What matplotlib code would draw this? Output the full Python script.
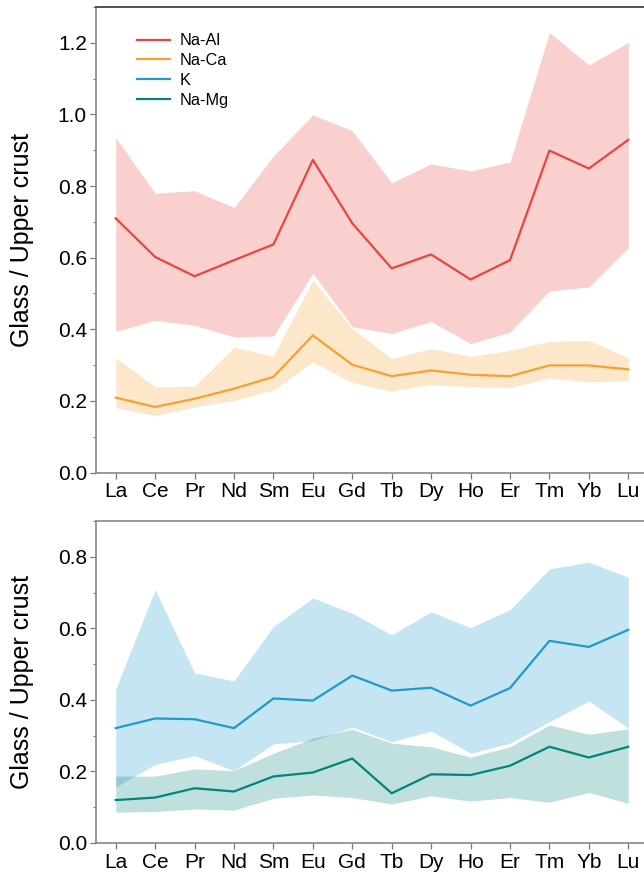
"""
REE patterns: glass normalised to upper crust, two panels.
"""

import numpy as np
import matplotlib
matplotlib.use('Agg')
import matplotlib.pyplot as plt
from matplotlib.ticker import MultipleLocator

plt.rcParams['font.family'] = ['Liberation Sans', 'DejaVu Sans']

ELEMENTS = ['La', 'Ce', 'Pr', 'Nd', 'Sm', 'Eu', 'Gd', 'Tb', 'Dy', 'Ho', 'Er', 'Tm', 'Yb', 'Lu']

# Na-Al  (média, mínimo, máximo)
na_al     = [0.710, 0.602, 0.548, 0.593, 0.637, 0.873, 0.696, 0.570, 0.609, 0.539, 0.593, 0.899, 0.849, 0.929]
na_al_min = [0.394, 0.425, 0.411, 0.379, 0.381, 0.556, 0.407, 0.388, 0.422, 0.360, 0.392, 0.507, 0.518, 0.628]
na_al_max = [0.935, 0.780, 0.787, 0.740, 0.884, 0.999, 0.954, 0.809, 0.862, 0.842, 0.867, 1.229, 1.138, 1.201]

# Na-Ca
na_ca     = [0.209, 0.183, 0.206, 0.234, 0.267, 0.383, 0.301, 0.269, 0.285, 0.273, 0.269, 0.299, 0.299, 0.288]
na_ca_min = [0.181, 0.159, 0.183, 0.201, 0.231, 0.309, 0.251, 0.227, 0.246, 0.239, 0.237, 0.264, 0.253, 0.257]
na_ca_max = [0.320, 0.239, 0.241, 0.350, 0.325, 0.537, 0.402, 0.318, 0.346, 0.324, 0.341, 0.366, 0.369, 0.321]

# K
k_mean = [0.321, 0.348, 0.346, 0.321, 0.404, 0.398, 0.468, 0.426, 0.434, 0.384, 0.433, 0.565, 0.548, 0.596]
k_min  = [0.156, 0.220, 0.244, 0.202, 0.277, 0.286, 0.324, 0.283, 0.313, 0.251, 0.279, 0.339, 0.397, 0.321]
k_max  = [0.430, 0.708, 0.475, 0.453, 0.605, 0.685, 0.642, 0.582, 0.646, 0.602, 0.652, 0.766, 0.785, 0.743]

# Na-Mg
na_mg     = [0.120, 0.127, 0.153, 0.144, 0.186, 0.197, 0.236, 0.139, 0.192, 0.190, 0.216, 0.269, 0.239, 0.269]
na_mg_min = [0.086, 0.088, 0.095, 0.092, 0.125, 0.134, 0.127, 0.109, 0.132, 0.117, 0.127, 0.114, 0.141, 0.111]
na_mg_max = [0.187, 0.187, 0.207, 0.202, 0.251, 0.293, 0.318, 0.279, 0.269, 0.240, 0.269, 0.330, 0.304, 0.319]

C_NAAL = '#e8463c'
C_NACA = '#f7a033'
C_K    = '#1e9bcb'
C_NAMG = '#00857a'

W, H = 644, 877
fig = plt.figure(figsize=(W / 100, H / 100), dpi=100)

ax1 = fig.add_axes([96 / W, 1 - 472.5 / H, (648 - 96) / W, (472.5 - 7) / H])
ax2 = fig.add_axes([96 / W, 1 - 843 / H, (648 - 96) / W, (843 - 521) / H])

x = np.arange(len(ELEMENTS))


def banda(ax, media, vmin, vmax, cor, label, alpha=0.25):
    ax.fill_between(x, vmin, vmax, color=cor, alpha=alpha, lw=0, zorder=1)
    ax.plot(x, media, color=cor, lw=1.6, label=label, zorder=3)


banda(ax1, na_al, na_al_min, na_al_max, C_NAAL, 'Na-Al')
banda(ax1, na_ca, na_ca_min, na_ca_max, C_NACA, 'Na-Ca')
banda(ax2, k_mean, k_min, k_max, C_K, 'K', alpha=0.26)
banda(ax2, na_mg, na_mg_min, na_mg_max, C_NAMG, 'Na-Mg')

# entradas do legend (K e Na-Mg aparecem no painel superior também)
ax1.plot([], [], color=C_K, lw=1.6, label='K')
ax1.plot([], [], color=C_NAMG, lw=1.6, label='Na-Mg')

leg = ax1.legend(loc='upper left', bbox_to_anchor=(0.054, 0.968), frameon=False,
                 fontsize=11.7, handlelength=2.0, handletextpad=0.6,
                 labelspacing=0.3, borderaxespad=0.3)

for ax, ymax, ysteps in ((ax1, 1.30, 0.2), (ax2, 0.90, 0.2)):
    ax.set_xlim(-0.5, 13.5)
    ax.set_ylim(0, ymax)
    ax.yaxis.set_major_locator(MultipleLocator(ysteps))
    ax.yaxis.set_minor_locator(MultipleLocator(0.1))
    ax.yaxis.set_major_formatter(matplotlib.ticker.FormatStrFormatter('%.1f'))
    ax.set_xticks(x)
    ax.set_xticklabels(ELEMENTS)
    ax.tick_params(axis='both', which='major', direction='out', length=4,
                   width=0.9, color='#777777', labelsize=15, pad=3)
    ax.tick_params(axis='y', which='minor', direction='out', length=2.5,
                   width=0.8, color='#777777')
    ax.tick_params(axis='y', which='major', pad=2.5)
    ax.spines['left'].set_color('#888888')
    ax.spines['bottom'].set_color('#888888')
    ax.spines['top'].set_color('#333333')
    ax.spines['left'].set_linewidth(1.2)
    ax.spines['bottom'].set_linewidth(1.2)
    ax.spines['top'].set_linewidth(1.2)
    ax.spines['right'].set_visible(False)
    ax.set_ylabel('Glass / Upper crust', fontsize=18)

ax2.spines['top'].set_color('#888888')

ax1.yaxis.set_label_coords(-0.113, 0.5)
ax2.yaxis.set_label_coords(-0.113, 0.5)

fig.savefig('out.png', dpi=100)
